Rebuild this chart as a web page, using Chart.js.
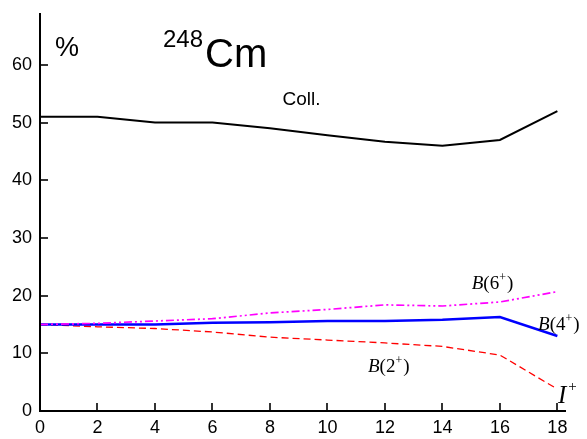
<!DOCTYPE html>
<html><head><meta charset="utf-8">
<script src="https://cdn.jsdelivr.net/npm/chart.js@4.4.1/dist/chart.umd.min.js"></script>
<style>html,body{margin:0;padding:0;background:#fff}#wrap{width:587px;height:439px}</style>
</head><body><div id="wrap"><canvas id="c" width="587" height="439"></canvas></div>
<script>
const spins = [0, 2, 4, 6, 8, 10, 12, 14, 16, 18];
const coll = [51, 51, 50, 50, 49, 47.8, 46.7, 46, 47, 52];
const b4 = [15, 15, 15, 15.3, 15.4, 15.6, 15.6, 15.8, 16.3, 13];
const b6 = [15, 15.2, 15.6, 16, 17, 17.6, 18.4, 18.2, 18.9, 20.7];
const b2 = [15, 14.6, 14.3, 13.7, 12.8, 12.3, 11.8, 11.2, 9.7, 3.8];
const xTicks = [0, 2, 4, 6, 8, 10, 12, 14, 16, 18];
const yTicks = [0, 10, 20, 30, 40, 50, 60];

const pts = arr => spins.map((s, i) => ({x: s, y: arr[i]}));

// annotation anchors in data coordinates
const notes = [
  {kind: 'plain', text: '%', x: 0.52, y: 61.5, size: 27},
  {kind: 'iso', sup: '248', main: 'Cm', x: 4.28, y: 59.6},
  {kind: 'plain', text: 'Coll.', x: 9.1, y: 53.0, size: 19, align: 'center'},
  {kind: 'B', n: '6', x: 15.02, y: 21.1},
  {kind: 'B', n: '4', x: 17.33, y: 14.0},
  {kind: 'B', n: '2', x: 11.41, y: 6.8},
  {kind: 'I', x: 18.02, y: 1.35}
];

const extras = {
  id: 'extras',
  afterDraw(chart) {
    const ctx = chart.ctx, xs = chart.scales.x, ys = chart.scales.y;
    const area = chart.chartArea;
    ctx.save();
    ctx.strokeStyle = '#000';
    ctx.lineWidth = 2;
    ctx.beginPath();
    ctx.moveTo(area.left, area.top); ctx.lineTo(area.left, area.bottom);
    ctx.lineTo(area.right, area.bottom);
    ctx.stroke();
    ctx.lineWidth = 1.6;
    xTicks.forEach(v => {
      const p = Math.round(xs.getPixelForValue(v));
      ctx.beginPath(); ctx.moveTo(p, area.bottom); ctx.lineTo(p, area.bottom - 8); ctx.stroke();
    });
    yTicks.forEach(v => {
      const p = Math.round(ys.getPixelForValue(v));
      ctx.beginPath(); ctx.moveTo(area.left, p); ctx.lineTo(area.left + 8, p); ctx.stroke();
    });
    ctx.fillStyle = '#000';
    ctx.textBaseline = 'alphabetic';
    notes.forEach(n => {
      const px = xs.getPixelForValue(n.x), py = ys.getPixelForValue(n.y);
      if (n.kind === 'plain') {
        ctx.font = n.size + 'px "Liberation Sans", Arial, sans-serif';
        ctx.textAlign = n.align || 'left';
        ctx.fillText(n.text, px, py);
      } else if (n.kind === 'iso') {
        ctx.textAlign = 'left';
        ctx.font = '24px "Liberation Sans", Arial, sans-serif';
        ctx.fillText(n.sup, px, py - 20);
        const w = ctx.measureText(n.sup).width;
        ctx.font = '40px "Liberation Sans", Arial, sans-serif';
        ctx.fillText(n.main, px + w + 2, py);
      } else if (n.kind === 'B') {
        ctx.textAlign = 'left';
        let cx = px;
        ctx.font = 'italic 19px "Liberation Serif", "Times New Roman", serif';
        ctx.fillText('B', cx, py); cx += ctx.measureText('B').width;
        ctx.font = '19px "Liberation Serif", "Times New Roman", serif';
        ctx.fillText('(' + n.n, cx, py); cx += ctx.measureText('(' + n.n).width;
        ctx.font = '12px "Liberation Serif", "Times New Roman", serif';
        ctx.fillText('+', cx, py - 8); cx += ctx.measureText('+').width;
        ctx.font = '19px "Liberation Serif", "Times New Roman", serif';
        ctx.fillText(')', cx + 1, py);
      } else if (n.kind === 'I') {
        ctx.textAlign = 'left';
        ctx.font = 'italic 25px "Liberation Serif", "Times New Roman", serif';
        ctx.fillText('I', px, py);
        const w = ctx.measureText('I').width;
        ctx.font = '15px "Liberation Serif", "Times New Roman", serif';
        ctx.fillText('+', px + w + 2, py - 12);
      }
    });
    ctx.restore();
  }
};

new Chart(document.getElementById('c'), {
  type: 'line',
  data: {
    datasets: [
      {label: 'Coll.', data: pts(coll), borderColor: '#000', borderWidth: 2, pointRadius: 0, tension: 0},
      {label: 'B(6+)', data: pts(b6), borderColor: '#ff00ff', borderWidth: 1.7, borderDash: [8, 3, 2, 3, 2, 3], pointRadius: 0, tension: 0},
      {label: 'B(4+)', data: pts(b4), borderColor: '#0000ff', borderWidth: 2.5, pointRadius: 0, tension: 0},
      {label: 'B(2+)', data: pts(b2), borderColor: '#ff0000', borderWidth: 1.3, borderDash: [7, 4], pointRadius: 0, tension: 0}
    ]
  },
  options: {
    responsive: false,
    animation: false,
    devicePixelRatio: 1,
    layout: {padding: {top: 13, right: 21, left: 0, bottom: 0}},
    plugins: {legend: {display: false}, tooltip: {enabled: false}},
    scales: {
      x: {
        type: 'linear', min: 0, max: 18.3,
        afterBuildTicks: s => { s.ticks = xTicks.map(v => ({value: v})); },
        afterFit: s => { s.height = 28; s.paddingLeft = 0; s.paddingRight = 0; },
        grid: {display: false, drawTicks: false},
        border: {display: false},
        ticks: {color: '#000', padding: 6, maxRotation: 0, font: {family: '"Liberation Sans", Arial, sans-serif', size: 18}}
      },
      y: {
        type: 'linear', min: 0, max: 69,
        afterBuildTicks: s => { s.ticks = yTicks.map(v => ({value: v})); },
        afterFit: s => { s.width = 40; s.paddingTop = 0; s.paddingBottom = 0; },
        grid: {display: false, drawTicks: false},
        border: {display: false},
        ticks: {color: '#000', padding: 8, font: {family: '"Liberation Sans", Arial, sans-serif', size: 18}}
      }
    }
  },
  plugins: [extras]
});
</script></body></html>
